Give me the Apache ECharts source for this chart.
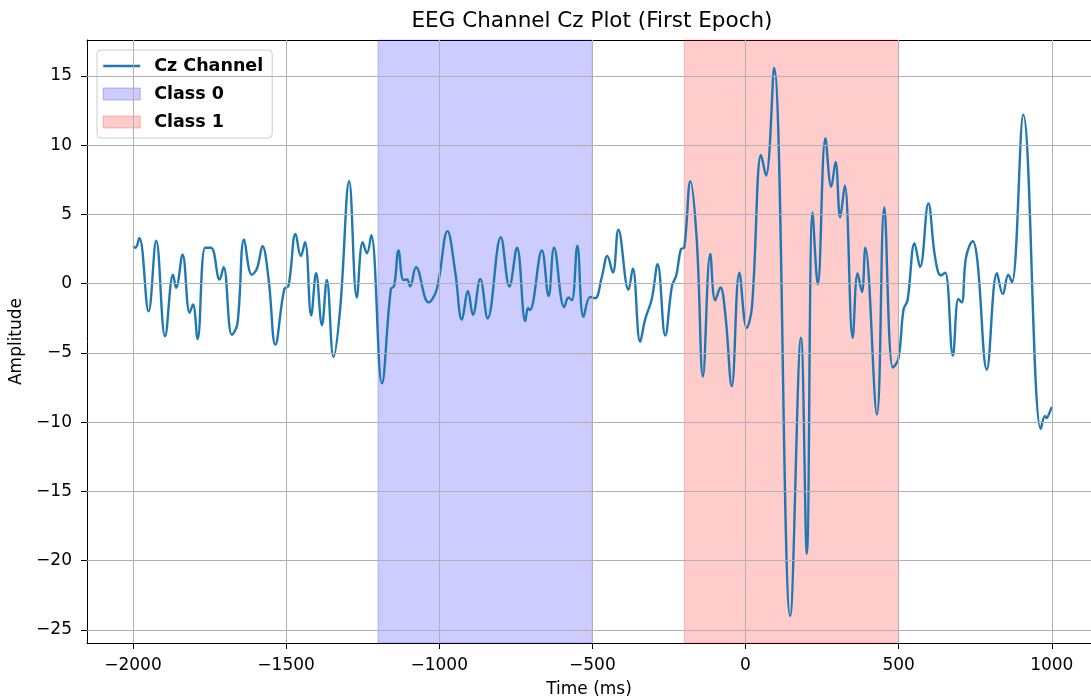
<!DOCTYPE html>
<html>
<head>
<meta charset="utf-8">
<script src="https://cdn.jsdelivr.net/npm/echarts@6/dist/echarts.min.js"></script>
<style>
html,body{margin:0;padding:0;background:#fff;}
#chart{width:1091px;height:698px;}
</style>
</head>
<body>
<div id="chart"></div>
<script>
// ---- data ----
const timeMs = [
  -2000,-1992,-1979,-1949,-1924,-1895,-1869,-1859,-1838,-1815,-1804,-1789,-1764,-1745,-1717,-1704,
  -1677,-1659,-1637,-1612,-1595,-1577,-1557,-1535,-1506,-1492,-1469,-1452,-1438,-1418,-1402,-1383,
  -1367,-1345,-1323,-1294,-1269,-1250,-1236,-1222,-1187,-1158,-1147,-1133,-1117,-1105,-1095,-1076,
  -1035,-1008,-973,-948,-926,-906,-890,-866,-842,-799,-771,-746,-719,-710,-704,-665,-643,-625,
  -592,-578,-567,-549,-529,-507,-491,-469,-451,-433,-415,-382,-368,-344,-328,-306,-287,-262,
  -240,-226,-211,-200,-180,-159,-139,-115,-99,-82,-66,-45,-20,4,21,51,67,93,
  146,181,200,219,236,261,280,294,309,324,350,366,380,391,429,453,481,499,516,529,552,570,597,
  619,638,652,677,695,706,720,742,757,788,821,840,858,870,907,964,978,983,988,1000
];
const amplitude = [
  2.7,2.6,3.3,-2.0,3.1,-3.8,0.65,-0.3,2.1,-2.1,-1.5,-4.0,2.6,2.6,0.3,1.2,
  -3.7,-2.9,3.2,0.65,1.1,2.7,0.3,-4.4,-0.4,-0.15,3.6,2.0,3.0,-2.3,0.75,-3.0,
  0.27,-5.3,-1.7,7.4,-1.0,3.0,2.2,3.5,-7.2,-0.4,-0.15,2.4,0.27,0.3,-0.2,1.2,
  -1.35,-0.4,3.8,0.9,-2.6,-0.55,-2.25,0.35,-2.5,3.35,-0.2,2.6,-2.7,-1.75,-1.9,2.4,-0.9,2.6,
  -1.7,-1.0,-1.2,2.75,-2.4,-0.95,-1.05,0.5,2.0,0.8,3.9,-0.45,1.1,-4.2,-2.6,-1.1,1.4,-3.75,
  -0.15,0.6,2.5,2.6,7.4,3.1,-6.7,2.15,-1.2,-0.27,-2.2,-7.4,0.8,-3.2,-1.7,9.3,7.8,15.6,
  -24.0,-3.9,-19.5,5.15,-0.05,10.5,7.0,8.8,4.8,7.1,-3.9,0.75,-0.6,2.6,-9.45,5.5,-6.05,-5.45,-1.85,-1.2,2.9,1.2,5.8,
  1.9,0.6,0.8,-5.2,-1.1,-1.35,1.9,3.07,1.67,-6.2,0.75,-0.75,0.65,0.1,12.2,-10.5,-9.55,-9.7,-9.55,-8.9
];
const class0Range = [-1200, -500];
const class1Range = [-200, 500];
const xTicks = [-2000, -1500, -1000, -500, 0, 500, 1000];
const yTicks = [-25, -20, -15, -10, -5, 0, 5, 10, 15];
const seriesNames = ['Cz Channel', 'Class 0', 'Class 1'];
const titleText = 'EEG Channel Cz Plot (First Epoch)';
const xLabel = 'Time (ms)';
const yLabel = 'Amplitude';

// ---- chart ----
const FONT = 'DejaVu Sans';
const fmt = v => String(v).replace('-', '\u2212');
const lineData = timeMs.map((t, i) => [t, amplitude[i]]);
const X_MIN = -2150, X_MAX = 1128, Y_MIN = -25.95, Y_MAX = 17.6;

const chart = echarts.init(document.getElementById('chart'), null, {renderer: 'canvas'});
chart.setOption({
  animation: false,
  backgroundColor: '#ffffff',
  title: {
    text: titleText,
    left: 587, top: 5, textAlign: 'center',
    textStyle: {fontFamily: FONT, fontSize: 21.5, fontWeight: 'normal', color: '#000'}
  },
  grid: {left: 87, right: 0, top: 40, bottom: 55, containLabel: false, outerBoundsMode: 'none'},
  legend: {
    orient: 'vertical', left: 97, top: 50,
    padding: [7, 9, 7, 5],
    itemWidth: 37, itemHeight: 12, itemGap: 10,
    backgroundColor: 'rgba(255,255,255,0.8)',
    borderColor: '#cccccc', borderWidth: 1, borderRadius: 4,
    textStyle: {fontFamily: FONT, fontSize: 17.5, fontWeight: 'bold', color: '#000', lineHeight: 17, padding: [0, 0, 0, 9]},
    data: [
      {name: seriesNames[0], itemStyle: {opacity: 0}, lineStyle: {color: '#1f77b4', width: 2.4}},
      {name: seriesNames[1], icon: 'rect', itemStyle: {color: 'rgba(0,0,255,0.2)', borderColor: 'rgba(0,0,255,0.25)', borderWidth: 1}},
      {name: seriesNames[2], icon: 'rect', itemStyle: {color: 'rgba(255,0,0,0.2)', borderColor: 'rgba(255,0,0,0.25)', borderWidth: 1}}
    ]
  },
  xAxis: [{
    type: 'value', min: X_MIN, max: X_MAX, position: 'bottom',
    name: xLabel, nameLocation: 'middle', nameGap: 38,
    nameTextStyle: {fontFamily: FONT, fontSize: 17, color: '#000'},
    axisLine: {show: true, onZero: false, lineStyle: {color: '#000', width: 1}},
    axisTick: {show: true, length: 6, customValues: xTicks, lineStyle: {color: '#000'}},
    axisLabel: {show: true, customValues: xTicks, formatter: fmt, margin: 14,
      fontFamily: FONT, fontSize: 17, color: '#000'},
    splitLine: {show: false}
  }, {
    type: 'value', min: X_MIN, max: X_MAX, position: 'top',
    axisLine: {show: true, onZero: false, lineStyle: {color: '#000', width: 1}},
    axisTick: {show: false}, axisLabel: {show: false}, splitLine: {show: false}
  }],
  yAxis: {
    type: 'value', min: Y_MIN, max: Y_MAX,
    name: yLabel, nameLocation: 'middle', nameGap: 59, nameRotate: 90,
    nameTextStyle: {fontFamily: FONT, fontSize: 17, color: '#000'},
    axisLine: {show: true, onZero: false, lineStyle: {color: '#000', width: 1}},
    axisTick: {show: true, length: 6, customValues: yTicks, lineStyle: {color: '#000'}},
    axisLabel: {show: true, customValues: yTicks, formatter: fmt, margin: 15,
      fontFamily: FONT, fontSize: 17, color: '#000'},
    splitLine: {show: false}
  },
  series: [
    {
      name: seriesNames[1], type: 'line', data: [], z: 1,
      color: 'rgba(0,0,255,0.2)',
      markArea: {
        silent: true,
        itemStyle: {color: 'rgba(0,0,255,0.2)', borderColor: 'rgba(0,0,255,0.2)', borderWidth: 1},
        data: [[{xAxis: class0Range[0]}, {xAxis: class0Range[1]}]]
      }
    },
    {
      name: seriesNames[2], type: 'line', data: [], z: 1,
      color: 'rgba(255,0,0,0.2)',
      markArea: {
        silent: true,
        itemStyle: {color: 'rgba(255,0,0,0.2)', borderColor: 'rgba(255,0,0,0.2)', borderWidth: 1},
        data: [[{xAxis: class1Range[0]}, {xAxis: class1Range[1]}]]
      }
    },
    {
      name: 'grid', type: 'line', data: [], z: 2,
      markLine: {
        silent: true, symbol: ['none', 'none'],
        label: {show: false},
        lineStyle: {color: '#b0b0b0', width: 1, type: 'solid'},
        emphasis: {disabled: true},
        data: xTicks.map(v => ({xAxis: v})).concat(yTicks.map(v => ({yAxis: v})))
      }
    },
    {
      name: seriesNames[0], type: 'line', data: lineData, z: 3,
      smooth: 0.4, symbol: 'none', showSymbol: false,
      color: '#1f77b4',
      lineStyle: {color: '#1f77b4', width: 2.4}
    }
  ]
});
</script>
</body>
</html>
